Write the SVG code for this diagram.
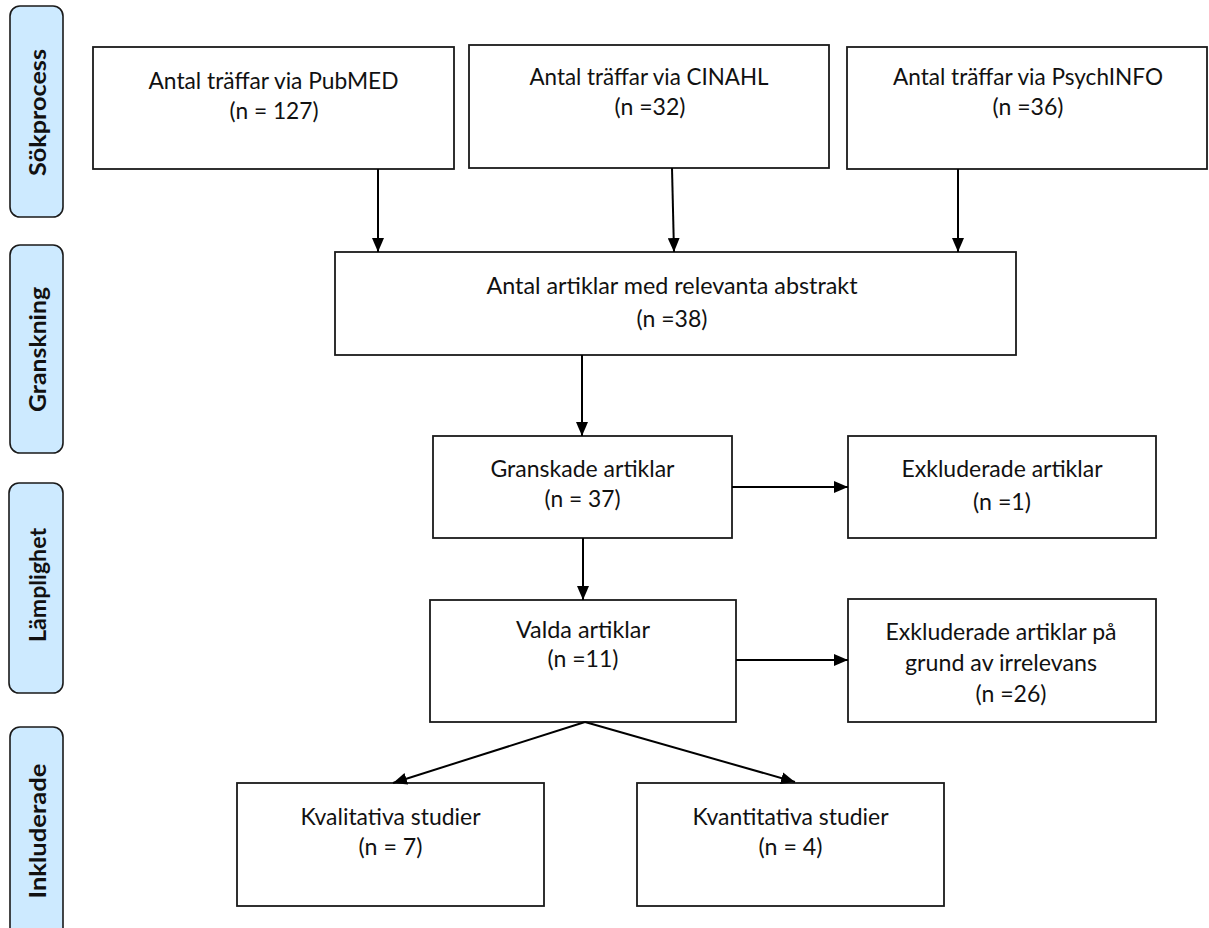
<svg xmlns="http://www.w3.org/2000/svg" width="1209" height="928" viewBox="0 0 1209 928">
<defs>
<style>
.box{fill:#fff;stroke:#1a1a1a;stroke-width:1.8}
.side{fill:#cdeaff;stroke:#1a1a1a;stroke-width:1.6}
.t{font-family:Lato,"Open Sans","Liberation Sans",sans-serif;font-size:24px;fill:#111;text-anchor:middle}
.s{font-family:Lato,"Open Sans","Liberation Sans",sans-serif;font-size:22px;font-weight:bold;fill:#111;text-anchor:middle}
.c{stroke:#000;stroke-width:2;fill:none;marker-end:url(#ah)}
</style>
<marker id="ah" markerUnits="userSpaceOnUse" viewBox="0 0 14 12" markerWidth="14" markerHeight="12" refX="14" refY="6" orient="auto">
<path d="M0,0 L14,6 L0,12 z" fill="#000"/>
</marker>
</defs>
<rect width="1209" height="928" fill="#fff"/>

<g id="lbl-sokprocess">
<rect class="side" x="10" y="6" width="53" height="211" rx="10"/>
<text class="s" transform="translate(46,112.5) rotate(-90)" textLength="127" lengthAdjust="spacingAndGlyphs">Sökprocess</text>
</g>
<g id="lbl-granskning">
<rect class="side" x="10" y="245" width="53" height="208" rx="10"/>
<text class="s" transform="translate(46,349.5) rotate(-90)" textLength="125" lengthAdjust="spacingAndGlyphs">Granskning</text>
</g>
<g id="lbl-lamplighet">
<rect class="side" x="9" y="483" width="54" height="210" rx="10"/>
<text class="s" transform="translate(46,585) rotate(-90)" textLength="114" lengthAdjust="spacingAndGlyphs">Lämplighet</text>
</g>
<g id="lbl-inkluderade">
<rect class="side" x="10" y="727" width="53" height="215" rx="10"/>
<text class="s" transform="translate(46,831) rotate(-90)" textLength="135" lengthAdjust="spacingAndGlyphs">Inkluderade</text>
</g>

<g id="pubmed">
<rect class="box" x="93" y="47" width="361" height="122"/>
<text class="t" x="273.5" y="89" textLength="250" lengthAdjust="spacingAndGlyphs">Antal träffar via PubMED</text>
<text class="t" x="274" y="119" textLength="89" lengthAdjust="spacingAndGlyphs">(n = 127)</text>
</g>
<g id="cinahl">
<rect class="box" x="469" y="45" width="360" height="123"/>
<text class="t" x="649" y="85" textLength="239" lengthAdjust="spacingAndGlyphs">Antal träffar via CINAHL</text>
<text class="t" x="650" y="115" textLength="71" lengthAdjust="spacingAndGlyphs">(n =32)</text>
</g>
<g id="psychinfo">
<rect class="box" x="847" y="47" width="360" height="122"/>
<text class="t" x="1028" y="85" textLength="270" lengthAdjust="spacingAndGlyphs">Antal träffar via PsychINFO</text>
<text class="t" x="1028" y="115" textLength="71" lengthAdjust="spacingAndGlyphs">(n =36)</text>
</g>
<g id="relevanta">
<rect class="box" x="335" y="252" width="681" height="103"/>
<text class="t" x="672" y="294" textLength="371" lengthAdjust="spacingAndGlyphs">Antal artiklar med relevanta abstrakt</text>
<text class="t" x="672" y="327" textLength="71" lengthAdjust="spacingAndGlyphs">(n =38)</text>
</g>
<g id="granskade">
<rect class="box" x="433" y="436" width="299" height="102"/>
<text class="t" x="582.5" y="477" textLength="184" lengthAdjust="spacingAndGlyphs">Granskade artiklar</text>
<text class="t" x="582.5" y="507" textLength="76" lengthAdjust="spacingAndGlyphs">(n = 37)</text>
</g>
<g id="exkluderade1">
<rect class="box" x="848" y="436" width="308" height="102"/>
<text class="t" x="1002" y="477" textLength="201" lengthAdjust="spacingAndGlyphs">Exkluderade artiklar</text>
<text class="t" x="1002" y="510" textLength="58" lengthAdjust="spacingAndGlyphs">(n =1)</text>
</g>
<g id="valda">
<rect class="box" x="430" y="600" width="306" height="122"/>
<text class="t" x="583" y="638" textLength="134" lengthAdjust="spacingAndGlyphs">Valda artiklar</text>
<text class="t" x="583" y="667" textLength="71" lengthAdjust="spacingAndGlyphs">(n =11)</text>
</g>
<g id="exkluderade2">
<rect class="box" x="848" y="599" width="308" height="123"/>
<text class="t" x="1001" y="640" textLength="231" lengthAdjust="spacingAndGlyphs">Exkluderade artiklar på</text>
<text class="t" x="1001" y="671" textLength="192" lengthAdjust="spacingAndGlyphs">grund av irrelevans</text>
<text class="t" x="1011" y="702" textLength="71" lengthAdjust="spacingAndGlyphs">(n =26)</text>
</g>
<g id="kvalitativa">
<rect class="box" x="237" y="783" width="307" height="123"/>
<text class="t" x="390.5" y="825" textLength="180" lengthAdjust="spacingAndGlyphs">Kvalitativa studier</text>
<text class="t" x="390.5" y="855" textLength="64" lengthAdjust="spacingAndGlyphs">(n = 7)</text>
</g>
<g id="kvantitativa">
<rect class="box" x="637" y="783" width="307" height="123"/>
<text class="t" x="790.5" y="825" textLength="196" lengthAdjust="spacingAndGlyphs">Kvantitativa studier</text>
<text class="t" x="790.5" y="855" textLength="64" lengthAdjust="spacingAndGlyphs">(n = 4)</text>
</g>

<g id="connectors">
<line class="c" x1="378" y1="169" x2="378" y2="252"/>
<line class="c" x1="672" y1="168" x2="674" y2="252"/>
<line class="c" x1="958" y1="169" x2="958" y2="252"/>
<line class="c" x1="582" y1="355" x2="582" y2="436"/>
<line class="c" x1="583" y1="538" x2="583" y2="600"/>
<line class="c" x1="732" y1="487" x2="848" y2="487"/>
<line class="c" x1="736" y1="660" x2="848" y2="660"/>
<line class="c" x1="585" y1="722" x2="393" y2="783"/>
<line class="c" x1="585" y1="722" x2="795" y2="782"/>
</g>
</svg>
